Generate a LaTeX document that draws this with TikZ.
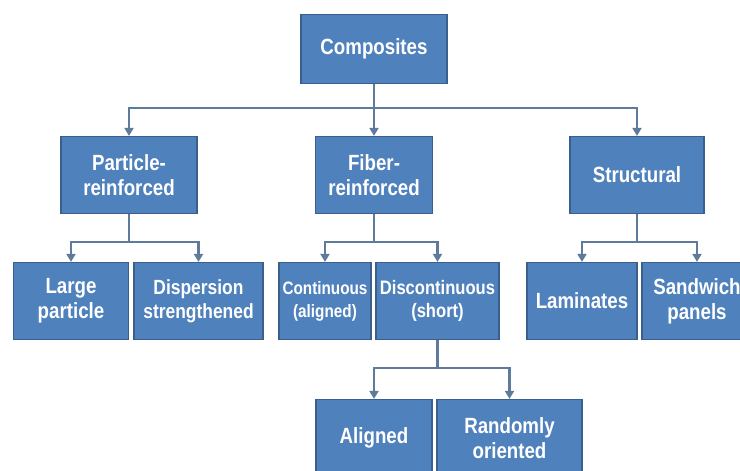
\documentclass[tikz,border=0pt]{standalone}
\usepackage{fontspec}
\setmainfont[FakeStretch=0.85]{Liberation Sans}
\usetikzlibrary{arrows.meta}
\definecolor{boxfill}{HTML}{4F81BD}
\definecolor{boxline}{HTML}{3A5F8C}
\definecolor{connc}{HTML}{5F7B9C}
\tikzset{
  box/.style={draw=boxline, line width=1.2pt, fill=boxfill, text=white,
    font=\bfseries\fontsize{22}{25}\selectfont, align=center, inner sep=1pt},
  conn/.style={draw=connc, line width=2.4pt},
  arr/.style={conn, -{Triangle[width=9pt,length=8pt]}}
}
\begin{document}
\begin{tikzpicture}[x=1pt,y=-1pt]
\useasboundingbox (0,0) rectangle (740,471);
\clip (0,0) rectangle (740,471);
% level 1
\node[box, minimum width=146pt, minimum height=69pt] (comp) at (374,49) {Composites};
% level 2
\node[box, minimum width=136pt, minimum height=77pt] (part) at (129,175) {Particle-\\reinforced};
\node[box, minimum width=117pt, minimum height=77pt] (fib) at (374,175) {Fiber-\\reinforced};
\node[box, minimum width=134pt, minimum height=77pt] (str) at (637,175) {Structural};
% level 3
\node[box, minimum width=115pt, minimum height=77pt] (large) at (71,301) {Large\\particle};
\node[box, minimum width=129pt, minimum height=77pt, font=\bfseries\fontsize{20.5}{24}\selectfont] (disp) at (198.5,301) {Dispersion\\strengthened};
\node[box, minimum width=92pt, minimum height=77pt, font=\bfseries\fontsize{18}{23}\selectfont] (cont) at (325,301) {Continuous\\(aligned)};
\node[box, minimum width=123pt, minimum height=77pt, font=\bfseries\fontsize{19.5}{23}\selectfont] (disc) at (437.5,301) {Discontinuous\\(short)};
\node[box, minimum width=110pt, minimum height=77pt] (lam) at (582,301) {Laminates};
\node[box, minimum width=110pt, minimum height=77pt] (sand) at (697,301) {Sandwich\\panels};
% level 4
\node[box, minimum width=116pt, minimum height=77pt] (ali) at (374,438) {Aligned};
\node[box, minimum width=145pt, minimum height=77pt] (rand) at (509.5,438) {Randomly\\oriented};
% bus coordinates
\coordinate (b1) at (374,108);
\coordinate (b2) at (129,242);
\coordinate (b3) at (374,242);
\coordinate (b4) at (637,242);
\coordinate (b5) at (437.5,368);
% connectors
\draw[conn] (comp.south) -- (b1);
\draw[arr] (b1) -| (part.north);
\draw[arr] (b1) -- (fib.north);
\draw[arr] (b1) -| (str.north);
\draw[conn] (part.south) -- (b2);
\draw[arr] (b2) -| (large.north);
\draw[arr] (b2) -| (disp.north);
\draw[conn] (fib.south) -- (b3);
\draw[arr] (b3) -| (cont.north);
\draw[arr] (b3) -| (disc.north);
\draw[conn] (str.south) -- (b4);
\draw[arr] (b4) -| (lam.north);
\draw[arr] (b4) -| (sand.north);
\draw[conn] (disc.south) -- (b5);
\draw[arr] (b5) -| (ali.north);
\draw[arr] (b5) -| (rand.north);
\end{tikzpicture}
\end{document}
